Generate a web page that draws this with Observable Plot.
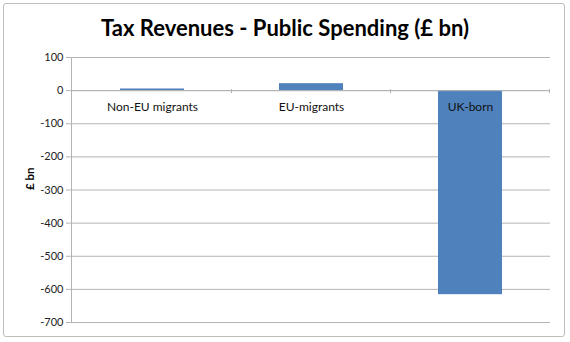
<!DOCTYPE html>
<html>
<head>
<meta charset="utf-8">
<script src="https://cdn.jsdelivr.net/npm/d3@7"></script>
<script src="https://cdn.jsdelivr.net/npm/@observablehq/plot@0.6"></script>
<style>
  html, body { margin: 0; padding: 0; background: #fff; }
  #wrap { position: relative; width: 570px; height: 342px; overflow: hidden; font-family: Lato, "Open Sans", sans-serif; }
  #border { position: absolute; left: 3px; top: 3px; width: 562px; height: 334px; border: 1.5px solid #bdbdbd; border-radius: 3px; box-sizing: border-box; }
  #title { position: absolute; left: 0; top: 14px; width: 570px; text-align: center; font-weight: bold; font-size: 22px; color: #000; font-family: Lato, sans-serif; }
  #chart { position: absolute; left: 0; top: 0; }
</style>
</head>
<body>
<div id="wrap">
  <div id="border"></div>
  <div id="title">Tax Revenues - Public Spending (£ bn)</div>
  <div id="chart"></div>
</div>
<script>
const categories = ["Non-EU migrants", "EU-migrants", "UK-born"];
const values = [5, 21, -616];
const yTicks = [100, 0, -100, -200, -300, -400, -500, -600, -700];
const yLabel = "£ bn";

const data = categories.map((c, i) => ({category: c, value: values[i]}));
const gridColor = "#b3b3b3";

// small category-boundary ticks on the zero line, computed from the band scale
function boundaryTicks(index, scales) {
  const x = scales.x, y = scales.y;
  const xs = categories.map(c => x(c));
  const bw = x.bandwidth ? x.bandwidth() : 0;
  const step = xs[1] - xs[0];
  const gap = (step - bw) / 2;
  const g = document.createElementNS("http://www.w3.org/2000/svg", "g");
  const y0 = y(0);
  xs.forEach((xv) => {
    const px = xv + bw + gap;
    const l = document.createElementNS("http://www.w3.org/2000/svg", "line");
    l.setAttribute("x1", px); l.setAttribute("x2", px);
    l.setAttribute("y1", y0 - 1); l.setAttribute("y2", y0 + 3);
    l.setAttribute("stroke", gridColor);
    g.appendChild(l);
  });
  return g;
}

const chart = Plot.plot({
  width: 570,
  height: 342,
  marginTop: 57,
  marginBottom: 20,
  marginLeft: 71,
  marginRight: 20,
  style: {fontFamily: "Lato, 'Open Sans', sans-serif", fontSize: "11px", color: "#222", background: "transparent"},
  x: {domain: categories, paddingInner: 0.6, paddingOuter: 0.3, axis: null},
  y: {domain: [-700, 100], ticks: yTicks, label: null},
  marks: [
    Plot.gridY(yTicks, {stroke: gridColor, strokeOpacity: 1, strokeWidth: 1}),
    Plot.frame({anchor: "left", stroke: gridColor, strokeWidth: 1}),
    Plot.axisY(yTicks, {tickSize: 5, tickPadding: 3, stroke: gridColor, fill: "#222", fontSize: 11, label: null, tickFormat: d => String(d)}),
    Plot.barY(data, {x: "category", y: "value", fill: "#4f81bd"}),
    Plot.ruleY([0], {stroke: gridColor, strokeWidth: 1}),
    boundaryTicks,
    Plot.text(data, {x: "category", y: () => 0, text: "category", dy: 17, fontSize: 12, fill: "#111"}),
    Plot.text([yLabel], {frameAnchor: "left", dx: -41, dy: 0, y: () => -300, text: d => d, rotate: -90, fontWeight: "bold", fontSize: 11.5, fill: "#000"})
  ]
});
document.getElementById("chart").appendChild(chart);
</script>
</body>
</html>
